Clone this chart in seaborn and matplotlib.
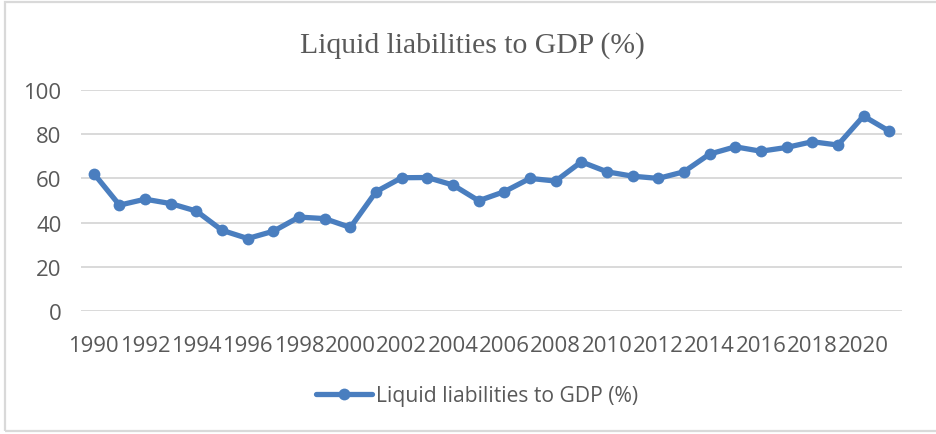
import matplotlib
matplotlib.use("Agg")
import matplotlib.pyplot as plt
import seaborn as sns
import pandas as pd
from matplotlib.patches import Rectangle

years = list(range(1990, 2022))
values = [62.2, 47.9, 50.6, 48.6, 45.2, 36.5, 32.8, 36.1, 42.5, 41.8,
          37.8, 54.0, 60.3, 60.4, 57.0, 49.9, 54.0, 60.0, 58.8, 67.5,
          63.0, 61.0, 60.0, 63.0, 71.0, 74.3, 72.3, 74.0, 76.6, 75.1,
          88.2, 81.4]
series_name = "Liquid liabilities to GDP (%)"
title_text = "Liquid liabilities to GDP (%)"
y_ticks = [0, 20, 40, 60, 80, 100]
x_ticks = list(range(1990, 2021, 2))

df = pd.DataFrame({"Year": years, "Value": values, "Series": series_name})

sns.set_theme(style="white")
plt.rcParams["font.family"] = ["Open Sans", "DejaVu Sans"]

W, H = 936, 435
fig = plt.figure(figsize=(W / 100, H / 100), dpi=100)
fig.patch.set_facecolor("white")

# chart border (light grey)
fig.add_artist(Rectangle((5 / W, 3 / H), 1.0, (432 - 3) / H, transform=fig.transFigure,
                         fill=False, edgecolor="#d9d9d9", linewidth=1.6))

ax = fig.add_axes([81 / W, 1 - 312 / H, (902 - 81) / W, (312 - 91) / H])
color = "#4a7ebf"
sns.lineplot(data=df, x="Year", y="Value", hue="Series", palette=[color],
             marker="o", markersize=8.5, markeredgewidth=0, linewidth=3.8,
             ax=ax, legend=True)

ax.set_xlim(1989.5, 2021.5)
ax.set_ylim(0, 100)
ax.set_yticks(y_ticks)
ax.set_xticks(x_ticks)
ax.set_xticklabels([str(x) for x in x_ticks])
ax.set_xlabel("")
ax.set_ylabel("")
for s in ax.spines.values():
    s.set_visible(False)
ax.yaxis.grid(True, color="#d9d9d9", linewidth=1.4)
ax.xaxis.grid(False)
ax.set_axisbelow(True)
ax.tick_params(axis="both", length=0, labelsize=15.9, colors="#595959")
ax.tick_params(axis="y", pad=14)
ax.tick_params(axis="x", pad=17)

fig.text(472 / W, 1 - 46 / H, title_text, ha="center", va="center",
         fontsize=21.3, color="#595959", family=["Liberation Serif", "DejaVu Serif"])

leg = ax.legend(loc="center", bbox_to_anchor=(477 / W, 1 - 397 / H),
                bbox_transform=fig.transFigure, frameon=False,
                fontsize=15.2, handlelength=2.65, handletextpad=0.2,
                labelcolor="#595959")

fig.savefig("out.png", dpi=100, facecolor="white")
